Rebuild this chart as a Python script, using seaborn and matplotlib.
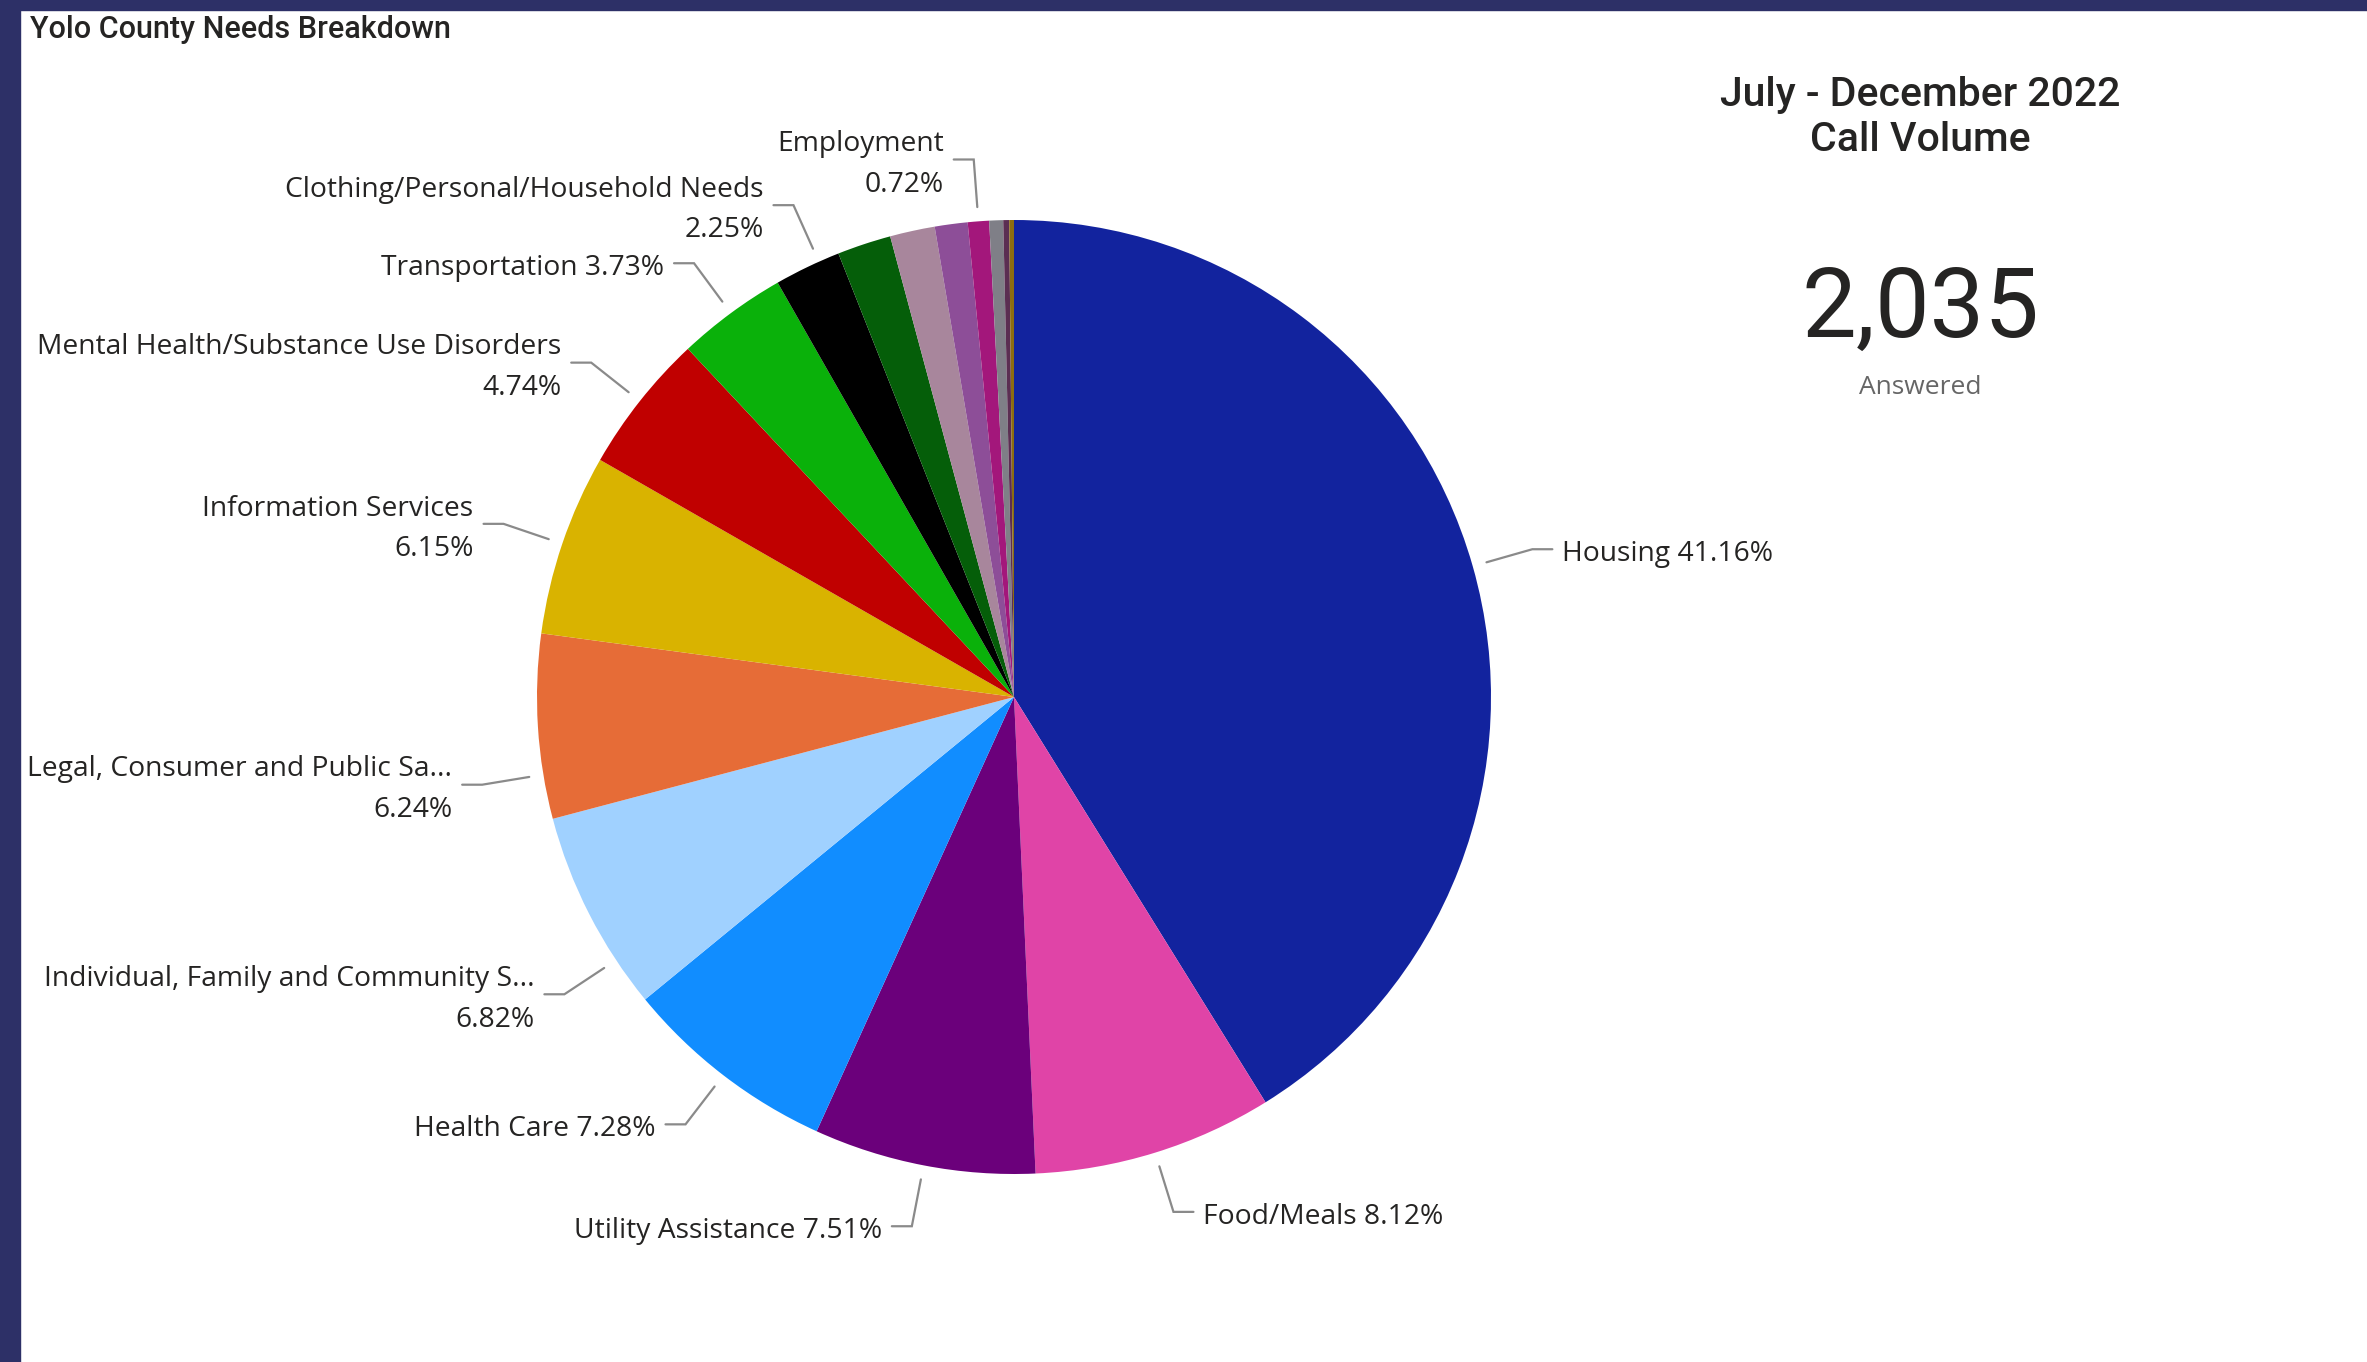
import numpy as np
import matplotlib.pyplot as plt
import seaborn as sns
from matplotlib.patches import Rectangle

sns.set_theme(style='white')
plt.rcParams['font.family'] = ['Open Sans', 'DejaVu Sans']

# data, clockwise from 12 o'clock
needs = ['Housing', 'Food/Meals', 'Utility Assistance', 'Health Care',
         'Individual, Family and Community S...', 'Legal, Consumer and Public Sa...',
         'Information Services', 'Mental Health/Substance Use Disorders',
         'Transportation', 'Clothing/Personal/Household Needs',
         'Other 1', 'Other 2', 'Other 3', 'Employment', 'Other 4', 'Other 5', 'Other 6']
share = [41.16, 8.12, 7.51, 7.28, 6.82, 6.24, 6.15, 4.74, 3.73, 2.25,
         1.82, 1.52, 1.11, 0.72, 0.47, 0.20, 0.16]
period = ['July - December 2022', 'Call Volume']
answered = 2035

colors = ['#12239E', '#E044A7', '#6B007B', '#118DFF', '#A0D1FF', '#E66C37',
          '#D9B300', '#C00000', '#0AB10A', '#000000', '#055E09', '#A8869C',
          '#8D4E98', '#A3177B', '#7F7F87', '#5B2E52', '#8C6D10']
hidden = {'Other 1', 'Other 2', 'Other 3', 'Other 4', 'Other 5', 'Other 6'}
wrapped = {'Individual, Family and Community S...', 'Legal, Consumer and Public Sa...',
           'Information Services', 'Mental Health/Substance Use Disorders',
           'Clothing/Personal/Household Needs', 'Employment'}
# label angle nudges (deg) where the report moved labels apart
nudge = {'Individual, Family and Community S...': 6.4,
         'Legal, Consumer and Public Sa...': 5.8,
         'Clothing/Personal/Household Needs': -1.5}

W, H = 2367, 1362
fig = plt.figure(figsize=(W / 100, H / 100), dpi=100)
ax = fig.add_axes([0, 0, 1, 1])
ax.set_xlim(0, W)
ax.set_ylim(0, H)
ax.axis('off')

# dark report frame
fig.patches.append(Rectangle((0, 0), 20 / W, 1, transform=fig.transFigure, color='#2D3067', zorder=0))
fig.patches.append(Rectangle((0, 1 - 10 / H), 1, 10 / H, transform=fig.transFigure, color='#2D3067', zorder=0))

cx, cy, r = 1014, H - 697, 477
wedges, _ = ax.pie(share, colors=colors, startangle=90, counterclock=False,
                   center=(cx, cy), radius=r, wedgeprops=dict(linewidth=0))
ax.set_xlim(0, W)
ax.set_ylim(0, H)

for w, name, val in zip(wedges, needs, share):
    if name in hidden:
        continue
    ang = np.deg2rad((w.theta1 + w.theta2) / 2 + nudge.get(name, 0))
    ux, uy = np.cos(ang), np.sin(ang)
    p0 = (cx + 1.03 * r * ux, cy + 1.03 * r * uy)
    p1 = (cx + 1.13 * r * ux, cy + 1.13 * r * uy)
    side = 1 if ux >= 0 else -1
    p2 = (p1[0] + side * 20, p1[1])
    ax.plot([p0[0], p1[0], p2[0]], [p0[1], p1[1], p2[1]], color='#8A8A8A', lw=1.6,
            solid_joinstyle='miter')
    sep = '\n' if name in wrapped else ' '
    ax.text(p2[0] + side * 10, p2[1] - 5, f'{name}{sep}{val:.2f}%',
            ha='left' if side > 0 else 'right', va='center',
            multialignment='right' if side < 0 else 'left',
            fontsize=20.3, color='#252423', linespacing=1.6)

ax.text(30, H - 30, 'Yolo County Needs Breakdown', fontsize=22, color='#252423',
        family='Roboto', fontweight='medium', va='center', ha='left')
ax.text(1920, H - 95, period[0], fontsize=29.5, color='#252423', family='Roboto',
        fontweight='medium', ha='center', va='center')
ax.text(1920, H - 140, period[1], fontsize=29.5, color='#252423', family='Roboto',
        fontweight='medium', ha='center', va='center')
ax.text(1920, H - 311, f'{answered:,}', fontsize=70, color='#252423', family='Roboto',
        ha='center', va='center')
ax.text(1920, H - 388, 'Answered', fontsize=19, color='#666666', ha='center', va='center')

fig.savefig('out.png', dpi=100)
